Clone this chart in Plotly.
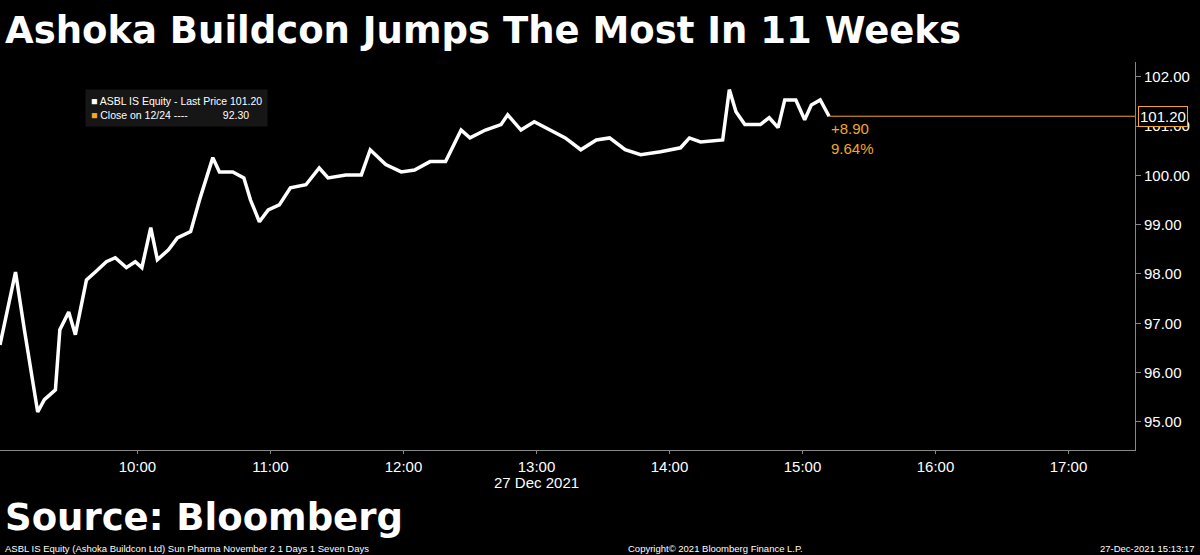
import plotly.graph_objects as go

times = ["08:58","09:05","09:09","09:13","09:15","09:18","09:23","09:25","09:29","09:32","09:37","09:41","09:46","09:50","09:55","09:59",
         "10:02","10:06","10:09","10:14","10:18","10:24","10:28","10:34","10:37","10:43","10:48","10:51","10:55","10:59",
         "11:04","11:09","11:16","11:22","11:26","11:34","11:41","11:45","11:52","11:59",
         "12:05","12:12","12:19","12:26","12:30","12:37","12:44","12:47","12:53","12:59",
         "13:06","13:13","13:20","13:27","13:33","13:40","13:47","13:56",
         "14:05","14:09","14:14","14:21","14:24","14:27","14:30","14:34","14:41","14:45","14:49","14:52","14:57",
         "15:01","15:04","15:08","15:12"]
prices = [96.56,98.04,96.87,95.75,95.20,95.45,95.65,96.87,97.23,96.77,97.88,98.04,98.25,98.33,98.13,98.25,
          98.13,98.94,98.29,98.49,98.73,98.86,99.50,100.36,100.07,100.07,99.95,99.50,99.06,99.30,
          99.40,99.75,99.81,100.15,99.95,100.01,100.01,100.52,100.22,100.07,
          100.11,100.28,100.28,100.92,100.76,100.92,101.03,101.23,100.92,101.09,
          100.92,100.76,100.52,100.72,100.76,100.52,100.42,100.48,
          100.56,100.76,100.68,100.72,100.72,101.74,101.29,101.03,101.03,101.17,100.97,101.53,101.53,
          101.13,101.43,101.53,101.20]
last_price = 101.20
prev_close = 92.30
x_ticks = ["10:00","11:00","12:00","13:00","14:00","15:00","16:00","17:00"]
y_ticks = [95, 96, 97, 98, 99, 100, 101, 102]

D = "2021-12-27 "
xs = [D + t for t in times]
orange = "#f5a623"
TF = "Liberation Sans"
H, T, B = 555, 62, 105
PH = H - T - B

def py(pix):  # pixel from top of figure -> paper y
    return (H - B - pix) / PH

fig = go.Figure()
fig.add_trace(go.Scatter(x=xs, y=prices, mode="lines", line=dict(color="white", width=3.5), showlegend=False))
fig.add_trace(go.Scatter(x=[xs[-1], D + "17:30"], y=[last_price, last_price], mode="lines",
                         line=dict(color=orange, width=1), showlegend=False))

fig.update_layout(
    width=1200, height=H, paper_bgcolor="black", plot_bgcolor="black",
    margin=dict(l=0, r=65, t=T, b=B),
    font=dict(family=TF, color="white", size=15),
    xaxis=dict(range=[D + "08:58", D + "17:30"], tickvals=[D + t for t in x_ticks], ticktext=x_ticks,
               showgrid=False, showline=True, linecolor="#888", ticks="outside", ticklen=3, tickcolor="#888",
               tickfont=dict(size=15, color="white"), zeroline=False),
    yaxis=dict(range=[94.43, 102.3], side="right", tickvals=y_ticks, tickformat=".2f",
               showgrid=False, showline=True, linecolor="#888", ticks="outside", ticklen=5, tickcolor="#888",
               tickfont=dict(size=15, color="white"), zeroline=False),
)

ann = [
    dict(text="<b>Ashoka Buildcon Jumps The Most In 11 Weeks</b>", x=0.003, y=py(30), xref="paper", yref="paper",
         xanchor="left", yanchor="middle", font=dict(size=37, color="white", family="DejaVu Sans"), showarrow=False),
    dict(text="<b>Source: Bloomberg</b>", xref="paper", yref="paper", x=0.003, y=py(517), xanchor="left", yanchor="middle",
         font=dict(size=37, color="white", family="DejaVu Sans"), showarrow=False),
    dict(text="27 Dec 2021", x=D + "13:00", y=py(482), xref="x", yref="paper", yanchor="middle",
         font=dict(size=15), showarrow=False),
    dict(text="ASBL IS Equity (Ashoka Buildcon Ltd) Sun Pharma November 2 1 Days 1 Seven Days", x=0.003, y=py(548),
         xref="paper", yref="paper", xanchor="left", yanchor="middle", font=dict(size=9.5), showarrow=False),
    dict(text="Copyright© 2021 Bloomberg Finance L.P.", x=0.63, y=py(548), xref="paper", yref="paper",
         xanchor="center", yanchor="middle", font=dict(size=9.5), showarrow=False),
    dict(text="27-Dec-2021 15:13:17", x=1.055, y=py(548), xref="paper", yref="paper",
         xanchor="right", yanchor="middle", font=dict(size=9.5), showarrow=False),
    dict(text="+%.2f<br>%.2f%%" % (last_price - prev_close, (last_price - prev_close) / prev_close * 100),
         x=xs[-1], y=last_price, xref="x", yref="y", xanchor="left", yanchor="top", xshift=0, yshift=-2,
         align="left", font=dict(size=15, color=orange), showarrow=False),
    dict(text="%.2f" % last_price, x=1.0, y=last_price, xref="paper", yref="y", xanchor="left",
         xshift=3, font=dict(size=15, color="white"), bgcolor="black", bordercolor=orange, borderwidth=1,
         borderpad=1, showarrow=False),
    dict(text="<span style='color:white'>■</span> ASBL IS Equity - Last Price %.2f<br>"
              "<span style='color:%s'>■</span> Close on 12/24 ----            %.2f" % (last_price, orange, prev_close),
         x=0.075, y=py(89), xref="paper", yref="paper", xanchor="left", yanchor="top", align="left",
         font=dict(size=10.5, family=TF), bgcolor="#161616", borderpad=5, showarrow=False),
]
fig.update_layout(annotations=ann)
fig.write_html("out.html", config={"displayModeBar": False},
               post_script="document.body.style.margin='0';document.body.style.background='black';")
